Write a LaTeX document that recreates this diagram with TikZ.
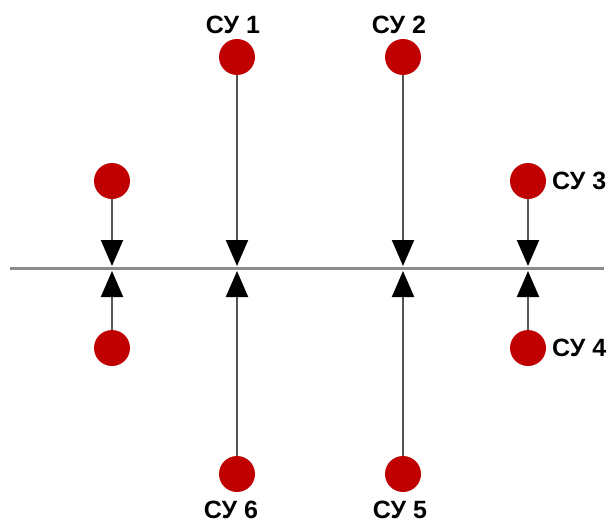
\documentclass[tikz,border=0pt]{standalone}
\usepackage{fontspec}
\setmainfont{Liberation Sans}
\usetikzlibrary{arrows.meta}
\definecolor{dotred}{HTML}{C00000}
\definecolor{busgray}{HTML}{8C8C8C}
\definecolor{linegray}{HTML}{555555}
\begin{document}
\begin{tikzpicture}[x=1pt,y=-1pt,
  dot/.style={circle,fill=dotred,draw=none,minimum size=36pt,inner sep=0pt},
  lab/.style={font=\fontsize{25}{25}\selectfont\bfseries,inner sep=0pt,text=black},
  feed/.style={draw=linegray,line width=2pt,-{Triangle[width=22pt,length=26pt,fill=black,color=black]}}]
\useasboundingbox (0,0) rectangle (611,525);
% bus
\coordinate (busL) at (10,268);
\coordinate (busR) at (604,268);
\draw[busgray,line width=3pt] (busL) -- (busR);
% dots
\node[dot] (a1) at (112,181) {};
\node[dot] (a2) at (112,348) {};
\node[dot] (s1) at (237,57) {};
\node[dot] (s2) at (403,57) {};
\node[dot] (s3) at (528,181) {};
\node[dot] (s4) at (528,348) {};
\node[dot] (s6) at (237,474) {};
\node[dot] (s5) at (403,474) {};
% arrow tips on the bus
\coordinate (ta1) at (112,266);
\coordinate (ta2) at (112,271);
\coordinate (t1) at (237,266);
\coordinate (t6) at (237,271);
\coordinate (t2) at (403,266);
\coordinate (t5) at (403,271);
\coordinate (t3) at (528,266);
\coordinate (t4) at (528,271);
\draw[feed] (a1) -- (ta1);
\draw[feed] (a2) -- (ta2);
\draw[feed] (s1) -- (t1);
\draw[feed] (s6) -- (t6);
\draw[feed] (s2) -- (t2);
\draw[feed] (s5) -- (t5);
\draw[feed] (s3) -- (t3);
\draw[feed] (s4) -- (t4);
% labels
\node[lab] (l1) at (233,25) {СУ 1};
\node[lab] (l2) at (399,25) {СУ 2};
\node[lab,anchor=west] (l3) at (552,181) {СУ 3};
\node[lab,anchor=west] (l4) at (552,348) {СУ 4};
\node[lab] (l6) at (231,510) {СУ 6};
\node[lab] (l5) at (400,510) {СУ 5};
\end{tikzpicture}
\end{document}
